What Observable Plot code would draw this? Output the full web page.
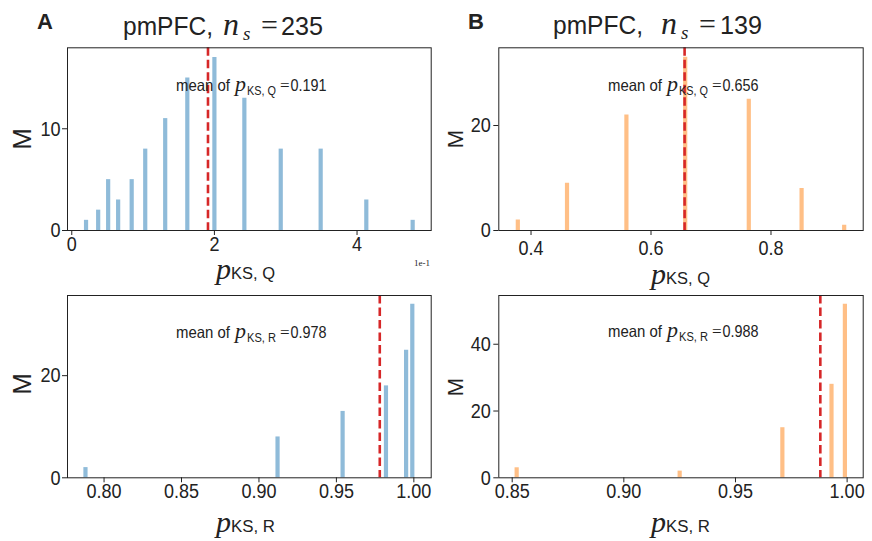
<!DOCTYPE html>
<html>
<head>
<meta charset="utf-8">
<script src="https://cdn.jsdelivr.net/npm/d3@7"></script>
<script src="https://cdn.jsdelivr.net/npm/@observablehq/plot@0.6"></script>
<style>
  html, body { margin: 0; padding: 0; background: #fff; }
  #root { position: relative; width: 872px; height: 541px; overflow: hidden; background: #fff; }
  .panel { position: absolute; }
  #overlay { position: absolute; left: 0; top: 0; pointer-events: none; }
</style>
</head>
<body>
<div id="root"></div>
<script>
// ---------- data ----------
// Panel A (blue), p_KS,Q histogram: bin positions and counts M
const aQValues = [0.020, 0.037, 0.051, 0.065, 0.084, 0.103, 0.131, 0.162, 0.200, 0.242, 0.293, 0.349, 0.413, 0.478];
const aQCounts = [1, 2, 5, 3, 5, 8, 11, 15, 17, 13, 8, 8, 3, 1];
// Panel A (blue), p_KS,R histogram
const aRValues = [0.788, 0.912, 0.954, 0.982, 0.995, 0.999];
const aRCounts = [2, 8, 13, 18, 25, 34];
// Panel B (orange), p_KS,Q histogram
const bQValues = [0.378, 0.460, 0.559, 0.657, 0.763, 0.851, 0.922];
const bQCounts = [2, 9, 22, 33, 25, 8, 1];
// Panel B (orange), p_KS,R histogram
const bRValues = [0.852, 0.925, 0.971, 0.993, 0.999];
const bRCounts = [3, 2, 15, 28, 52];
// means shown as dashed lines
const means = {aQ: 0.191, aR: 0.978, bQ: 0.656, bR: 0.988};
// titles / n_s
const panelLetters = ["A", "B"];
const nS = [235, 139];
// tick values and labels
const aQTicks = [0, 0.2, 0.4];       const aQTickLabels = ["0", "2", "4"];
const aRTicks = [0.80, 0.85, 0.90, 0.95, 1.00]; const aRTickLabels = ["0.80", "0.85", "0.90", "0.95", "1.00"];
const bQTicks = [0.4, 0.6, 0.8];     const bQTickLabels = ["0.4", "0.6", "0.8"];
const bRTicks = [0.85, 0.90, 0.95, 1.00]; const bRTickLabels = ["0.85", "0.90", "0.95", "1.00"];
const aQYTicks = [0, 10];
const aRYTicks = [0, 20];
const bQYTicks = [0, 20];
const bRYTicks = [0, 20, 40];

// ---------- styling ----------
const SANS = "'Liberation Sans', Arial, Helvetica, sans-serif";
const SERIF = "'Liberation Serif', 'DejaVu Serif', serif";
const BLUE = "#8fbbd9";
const ORANGE = "#ffbf86";
const RED = "#d62728";
const INK = "#222";

const zip = (xs, ys) => xs.map((x, i) => ({x, y: ys[i]}));

function condense(textEl, factor) {
  const len = textEl.getComputedTextLength();
  if (len > 0) {
    textEl.setAttribute("textLength", (len * factor).toFixed(2));
    textEl.setAttribute("lengthAdjust", "spacingAndGlyphs");
  }
}

function makePanel(cfg) {
  const data = zip(cfg.values, cfg.counts);
  const plot = Plot.plot({
    width: cfg.width, height: cfg.height,
    marginLeft: cfg.ml, marginRight: cfg.mr, marginTop: cfg.mt, marginBottom: cfg.mb,
    style: {fontFamily: SANS, color: INK, background: "transparent", overflow: "visible"},
    x: {domain: cfg.xDomain},
    y: {domain: cfg.yDomain},
    marks: [
      Plot.ruleX(data, {x: "x", y1: 0, y2: "y", stroke: cfg.color, strokeWidth: 4.2}),
      Plot.ruleX([cfg.mean], {stroke: RED, strokeWidth: 2.6, strokeDasharray: "8.5,4"}),
      Plot.frame({stroke: INK, strokeWidth: 1}),
      Plot.axisX({ticks: cfg.xTicks, tickFormat: (d) => cfg.xTickLabels[cfg.xTicks.indexOf(d)],
                  tickSize: 5, tickPadding: cfg.xPad, fontSize: 20, label: null}),
      Plot.axisY({ticks: cfg.yTicks, tickSize: 5, tickPadding: cfg.yPad, fontSize: 21, label: null})
    ]
  });
  const div = document.createElement("div");
  div.className = "panel";
  div.style.left = cfg.left + "px";
  div.style.top = cfg.top + "px";
  div.appendChild(plot);
  document.getElementById("root").appendChild(div);
  plot.querySelectorAll('g[aria-label="x-axis tick label"] text').forEach((t) => condense(t, 0.9));
  plot.querySelectorAll('g[aria-label="y-axis tick label"] text').forEach((t) => condense(t, 0.86));
}

makePanel({left: 0, top: 0, width: 440, height: 290, ml: 67, mr: 9.3, mt: 47.3, mb: 60,
  values: aQValues, counts: aQCounts, color: BLUE, mean: means.aQ,
  xDomain: [-0.006, 0.504], yDomain: [0, 17.96], xTicks: aQTicks, xTickLabels: aQTickLabels,
  yTicks: aQYTicks, xPad: 1, yPad: 2});
makePanel({left: 440, top: 0, width: 432, height: 290, ml: 58.3, mr: 9.3, mt: 47.3, mb: 60,
  values: bQValues, counts: bQCounts, color: ORANGE, mean: means.bQ,
  xDomain: [0.3463, 0.9537], yDomain: [0, 34.8], xTicks: bQTicks, xTickLabels: bQTickLabels,
  yTicks: bQYTicks, xPad: 5, yPad: 3});
makePanel({left: 0, top: 290, width: 440, height: 251, ml: 67, mr: 9.3, mt: 5, mb: 63.7,
  values: aRValues, counts: aRCounts, color: BLUE, mean: means.aR,
  xDomain: [0.7764, 1.0112], yDomain: [0, 35.7], xTicks: aRTicks, xTickLabels: aRTickLabels,
  yTicks: aRYTicks, xPad: 1, yPad: 2});
makePanel({left: 440, top: 290, width: 432, height: 251, ml: 58.3, mr: 9.3, mt: 5, mb: 63.7,
  values: bRValues, counts: bRCounts, color: ORANGE, mean: means.bR,
  xDomain: [0.844, 1.0072], yDomain: [0, 54.6], xTicks: bRTicks, xTickLabels: bRTickLabels,
  yTicks: bRYTicks, xPad: 1, yPad: 3});

// ---------- text overlay ----------
const svg = d3.select("#root").append("svg").attr("id", "overlay")
  .attr("width", 872).attr("height", 541)
  .style("font-family", SANS).style("fill", INK);

function piece(x, y, str, o = {}) {
  const t = svg.append("text").attr("x", x).attr("y", y)
    .style("font-family", o.family || SANS)
    .style("font-size", (o.size || 16) + "px")
    .text(str);
  if (o.italic) t.style("font-style", "italic");
  if (o.bold) t.style("font-weight", "bold");
  if (o.anchor) t.attr("text-anchor", o.anchor);
  if (o.len) t.attr("textLength", o.len).attr("lengthAdjust", "spacingAndGlyphs");
  return t;
}

// panel letters
piece(37, 29, panelLetters[0], {size: 22, bold: true});
piece(468, 29, panelLetters[1], {size: 22, bold: true});

// titles: "pmPFC, n_s =NNN"
function title(x0, xn, xs, xeq, xnum, y, num) {
  piece(x0, y, "pmPFC,", {size: 25, len: 90});
  piece(xn, y, "n", {family: SERIF, italic: true, size: 32});
  piece(xs, y + 5, "s", {family: SERIF, italic: true, size: 19});
  piece(xeq, y, "=", {family: SERIF, size: 30});
  piece(xnum, y, String(num), {size: 25, len: 42});
}
title(123, 223, 243, 261, 281, 35, nS[0]);
title(553, 661, 681, 699, 720, 33.5, nS[1]);

// mean annotations: "mean of p_KS,X =value"
function meanText(x, y, sub, val) {
  piece(x, y, "mean of", {size: 16.5, len: 54});
  piece(x + 59, y, "p", {family: SERIF, italic: true, size: 22});
  piece(x + 71, y + 4, "KS, " + sub, {size: 12.5, len: 29});
  piece(x + 104, y, "=", {family: SERIF, size: 17});
  piece(x + 114.5, y, val.toFixed(3), {size: 16.5, len: 36});
}
meanText(176, 90.7, "Q", means.aQ);
meanText(608, 90.7, "Q", means.bQ);
meanText(176, 338.3, "R", means.aR);
meanText(608, 337.3, "R", means.bR);

// x-axis labels "p_KS,X"
function axisLabel(xp, y, sub) {
  piece(xp, y, "p", {family: SERIF, italic: true, size: 30});
  piece(xp + 15, y, "KS, " + sub, {size: 16, len: 44});
}
axisLabel(216, 279, "Q");
axisLabel(651, 284, "Q");
axisLabel(216, 532, "R");
axisLabel(651, 532, "R");

// y-axis labels "M"
[[21.5, 139, 26], [21.5, 384, 26], [455.5, 139, 22], [455.5, 387, 22]].forEach(([cx, cy, fs]) => {
  svg.append("text")
    .attr("transform", `translate(${cx + 0.36 * fs},${cy}) rotate(-90)`)
    .attr("text-anchor", "middle")
    .style("font-family", SANS)
    .style("font-size", fs + "px").text("M");
});

// offset text for the scaled axis
piece(430, 266, "1e-1", {family: SERIF, size: 9, anchor: "end"});
</script>
</body>
</html>
